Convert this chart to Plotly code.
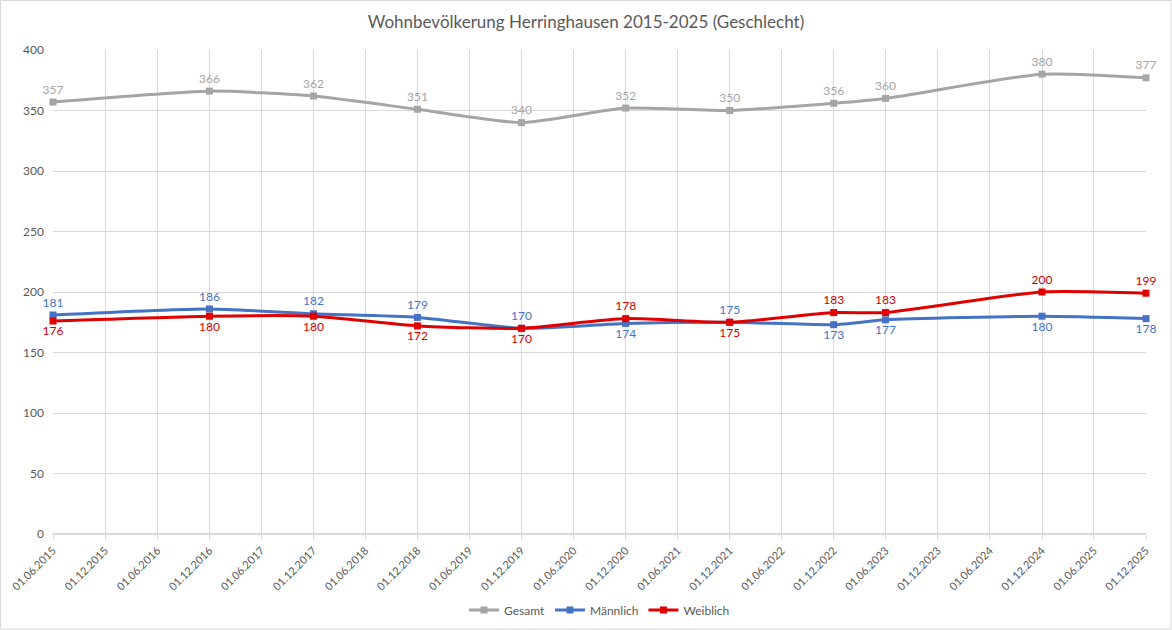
import plotly.graph_objects as go
import pandas as pd

dates = ["2015-06-01", "2016-12-01", "2017-12-01", "2018-12-01", "2019-12-01",
         "2020-12-01", "2021-12-01", "2022-12-01", "2023-06-01", "2024-12-01", "2025-12-01"]
gesamt = [357, 366, 362, 351, 340, 352, 350, 356, 360, 380, 377]
maennlich = [181, 186, 182, 179, 170, 174, 175, 173, 177, 180, 178]
weiblich = [176, 180, 180, 172, 170, 178, 175, 183, 183, 200, 199]

pos_m = ["top center"] * 5 + ["bottom center", "top center", "bottom center", "bottom center", "bottom center", "bottom center"]
pos_w = ["bottom center"] * 5 + ["top center", "bottom center", "top center", "top center", "top center", "top center"]

tickvals = pd.date_range("2015-06-01", "2025-12-01", freq="6MS")
ticktext = [d.strftime("%d.%m.%Y") for d in tickvals]

W, H = 1172, 630
ml, mr, mt, mb = 53, 26, 50, 96
pw, ph = W - ml - mr, H - mt - mb

FONT = "Lato, Open Sans, sans-serif"
fig = go.Figure()
series = [
    ("Gesamt", gesamt, "#A5A5A5", "#A5A5A5", ["top center"] * 11),
    ("Männlich", maennlich, "#4472C4", "#4472C4", pos_m),
    ("Weiblich", weiblich, "#E00000", "#D00000", pos_w),
]
for name, vals, col, tcol, pos in series:
    fig.add_trace(go.Scatter(
        x=dates, y=vals, name=name, mode="lines+markers+text",
        line=dict(color=col, width=3, shape="spline", smoothing=0.6),
        marker=dict(symbol="square", size=7, color=col),
        text=[str(v) for v in vals], textposition=pos,
        textfont=dict(color=tcol, size=12, family=FONT),
        cliponaxis=False,
    ))

fig.update_layout(
    width=W, height=H,
    margin=dict(l=ml, r=mr, t=mt, b=mb, autoexpand=False),
    paper_bgcolor="white", plot_bgcolor="white",
    font=dict(family=FONT, color="#595959"),
    title=dict(text="Wohnbevölkerung Herringhausen 2015-2025 (Geschlecht)",
               x=0.5, xanchor="center", y=1 - 22 / H, yanchor="middle",
               font=dict(size=17, color="#595959", family=FONT)),
    xaxis=dict(type="date", range=["2015-06-01", "2025-12-01"],
               tickvals=list(tickvals), ticktext=ticktext, tickangle=-45,
               showgrid=True, gridcolor="#D9D9D9", gridwidth=1,
               showline=False, zeroline=False, automargin=False,
               tickfont=dict(size=11, color="#595959", family=FONT),
               ticks="outside", ticklen=5, tickcolor="#D9D9D9"),
    yaxis=dict(range=[0, 400], dtick=50, showgrid=True, gridcolor="#D9D9D9",
               zeroline=True, zerolinecolor="#D9D9D9", showline=False,
               automargin=False,
               tickfont=dict(size=12, color="#595959", family=FONT),
               ticklabelstandoff=8),
    legend=dict(orientation="h", x=0.5, xanchor="center",
                yref="container", y=1 - 610 / H, yanchor="middle",
                font=dict(size=12, color="#595959", family=FONT), itemwidth=30),
    shapes=[dict(type="rect", xref="paper", yref="paper",
                 x0=-ml / pw + 0.5 / pw, x1=1 + (mr - 1) / pw,
                 y0=-(mb - 1) / ph, y1=1 + (mt - 0.5) / ph,
                 line=dict(color="#D9D9D9", width=1), layer="below")],
)

fig.write_html("out.html")
